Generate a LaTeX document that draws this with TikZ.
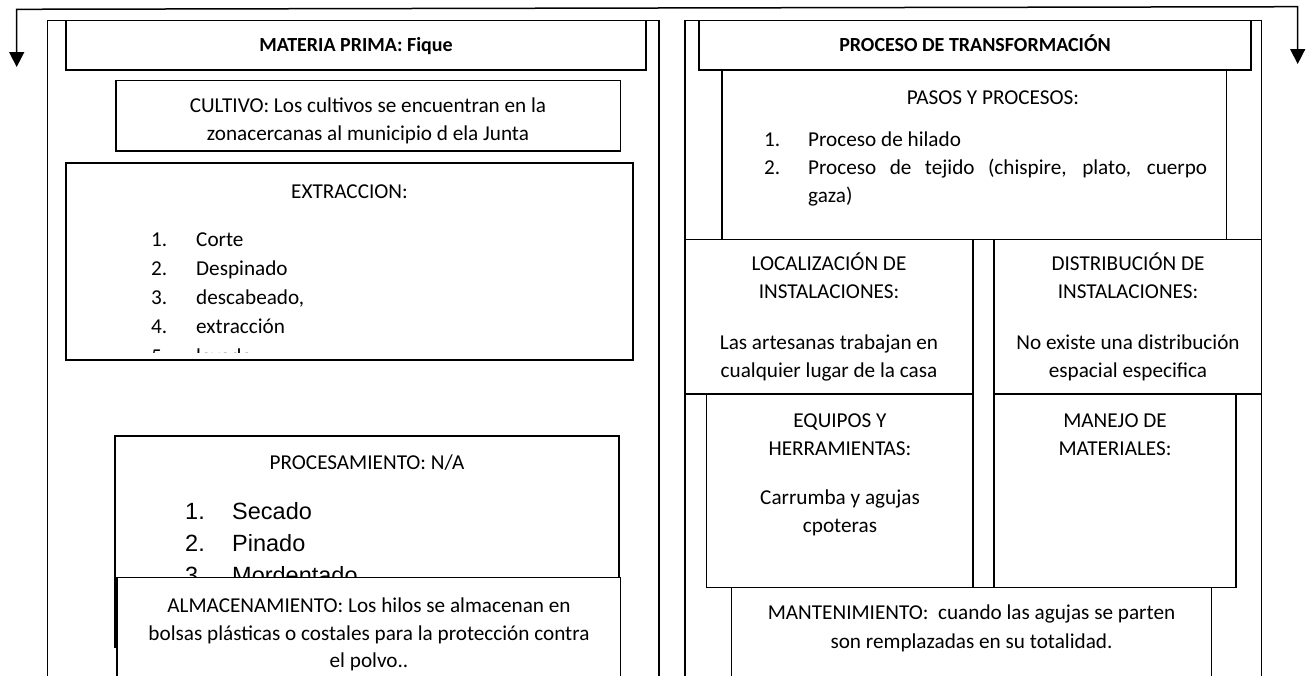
\documentclass[tikz,border=0pt]{standalone}
\usepackage{fontspec}
\setmainfont{Carlito}
\newfontfamily\arialf{Liberation Sans}
\usetikzlibrary{arrows.meta}
\begin{document}
\begin{tikzpicture}[x=1pt,y=-1pt,
  boxl/.style={draw=black, line width=1.3pt},
  outerl/.style={draw=black, line width=1.4pt},
  txt/.style={inner sep=0pt, anchor=base, font=\fontsize{21.2pt}{28pt}\selectfont},
  lt/.style={txt, anchor=base west},
  boldtxt/.style={txt, font=\fontsize{20pt}{26pt}\selectfont\bfseries},
  arl/.style={inner sep=0pt, anchor=base west, font=\arialf\fontsize{23.5pt}{32pt}\selectfont},
  conn/.style={line width=1.5pt, {Triangle[length=15pt,width=15pt]}-{Triangle[length=15pt,width=15pt]}}
]
\useasboundingbox (0,0) rectangle (1307,675);
\fill[white] (0,0) rectangle (1307,675);

% connector on top
\coordinate (aL) at (16.7,67);
\coordinate (cL) at (16.7,9.3);
\coordinate (cR) at (1297.7,6.7);
\coordinate (aR) at (1297.7,64);
\draw[conn] (aL) -- (cL) -- (cR) -- (aR);

% ---------- left column ----------
\draw[outerl] (47.7,690) -- (47.7,20.7) -- (659,20.7) -- (659,690);
\draw[boxl] (66,20.7) rectangle (646,70);
\node[boldtxt] (hL) at (356,51) {MATERIA PRIMA: Fique};

\draw[boxl] (116,80.7) rectangle (620.7,151);
\node[txt] (c1) at (368,112) {CULTIVO: Los cultivos se encuentran en la};
\node[txt] (c2) at (368,140) {zonacercanas al municipio d ela Junta};

\draw[boxl] (66,163) rectangle (633,360);
\node[txt] (ex0) at (349.5,198) {EXTRACCION:};
\begin{scope}
\clip (66,163) rectangle (633,352.5);
\node[lt] (en1) at (151,246.5) {1.};
\node[lt] (et1) at (196,246.5) {Corte};
\node[lt] (en2) at (151,275.5) {2.};
\node[lt] (et2) at (196,275.5) {Despinado};
\node[lt] (en3) at (151,304.5) {3.};
\node[lt] (et3) at (196,304.5) {descabeado,};
\node[lt] (en4) at (151,333.5) {4.};
\node[lt] (et4) at (196,333.5) {extracción};
\node[lt] (en5) at (151,363) {5.};
\node[lt] (et5) at (196,363) {lavado};
\end{scope}

\draw[boxl] (115,436) rectangle (619,647);
\node[txt] (p0) at (367,469) {PROCESAMIENTO: N/A};
\node[arl] (pn1) at (185,519) {1.};
\node[arl] (pt1) at (232,519) {Secado};
\node[arl] (pn2) at (185,551) {2.};
\node[arl] (pt2) at (232,551) {Pinado};
\node[arl] (pn3) at (185,583) {3.};
\node[arl] (pt3) at (232,583) {Mordentado};

\filldraw[boxl, fill=white] (117,577.5) rectangle (620.7,690);
\node[txt] (al1) at (369,612) {ALMACENAMIENTO: Los hilos se almacenan en};
\node[txt] (al2) at (369,640) {bolsas plásticas o costales para la protección contra};
\node[txt] (al3) at (369,667) {el polvo..};

% ---------- right column ----------
\draw[outerl] (685,690) -- (685,20.7) -- (1261.7,20.7) -- (1261.7,690);
\draw[boxl] (699,20.7) rectangle (1251,70);
\node[boldtxt] (hR) at (975,51) {PROCESO DE TRANSFORMACIÓN};

\draw[boxl] (722,70) rectangle (1226.7,239.5);
\node[txt] (ps0) at (993,104) {PASOS Y PROCESOS:};
\node[lt] (pp1) at (764,146) {1.};
\node[lt] (pq1) at (808,146) {Proceso de hilado};
\node[lt] (pp2) at (764,174) {2.};
\node[lt] (pq2) at (808,174) {\makebox[399pt][s]{Proceso de tejido (chispire, plato, cuerpo}};
\node[lt] (pq3) at (808,202) {gaza)};

\draw[boxl] (685,239.5) rectangle (973,394);
\node[txt] (lo1) at (829,270) {LOCALIZACIÓN DE};
\node[txt] (lo2) at (829,298) {INSTALACIONES:};
\node[txt] (lo3) at (829,349) {Las artesanas trabajan en};
\node[txt] (lo4) at (829,377) {cualquier lugar de la casa};

\draw[boxl] (994,239.5) rectangle (1261.7,394);
\node[txt] (di1) at (1128,270) {DISTRIBUCIÓN DE};
\node[txt] (di2) at (1128,298) {INSTALACIONES:};
\node[txt] (di3) at (1128,349) {No existe una distribución};
\node[txt] (di4) at (1128,377) {espacial especifica};

\draw[boxl] (706.7,394) rectangle (973,587.7);
\node[txt] (eq1) at (840,427) {EQUIPOS Y};
\node[txt] (eq2) at (840,455) {HERRAMIENTAS:};
\node[txt] (eq3) at (840,504) {Carrumba y agujas};
\node[txt] (eq4) at (840,532) {cpoteras};

\draw[boxl] (994,394) rectangle (1236,587.7);
\node[txt] (ma1) at (1115,427) {MANEJO DE};
\node[txt] (ma2) at (1115,455) {MATERIALES:};

\draw[boxl] (731.7,587.7) rectangle (1211.4,690);
\node[txt] (mt1) at (971.5,619) {MANTENIMIENTO:\ \ cuando las agujas se parten};
\node[txt] (mt2) at (971.5,648) {son remplazadas en su totalidad.};
\end{tikzpicture}
\end{document}
